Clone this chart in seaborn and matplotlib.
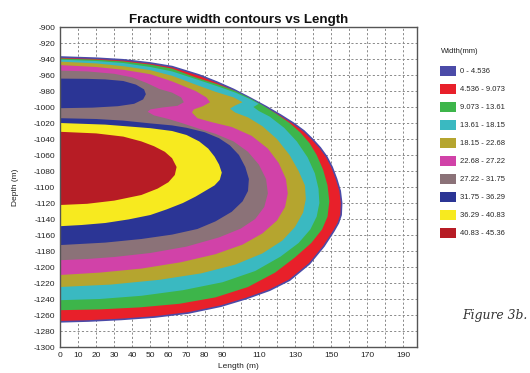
import matplotlib
matplotlib.use("Agg")
import matplotlib.pyplot as plt
import seaborn as sns
from matplotlib.patches import Patch

# ---------------- data ----------------
width_labels = ["0 - 4.536", "4.536 - 9.073", "9.073 - 13.61", "13.61 - 18.15",
                "18.15 - 22.68", "22.68 - 27.22", "27.22 - 31.75", "31.75 - 36.29",
                "36.29 - 40.83", "40.83 - 45.36"]
width_colors = ["#4b4ba8", "#e8202a", "#3db54a", "#3ab9c1", "#b5a52f",
                "#d142a8", "#8b7278", "#2b3595", "#f7ea1f", "#b71c25"]

x_ticks = list(range(0, 200, 10))
x_tick_labels = ["0", "10", "20", "30", "40", "50", "60", "70", "80", "90", "",
                 "110", "", "130", "", "150", "", "170", "", "190"]
y_ticks = list(range(-1300, -899, 20))

# contour boundaries (length m, depth m), outer -> inner
c_4_536 = [(0, -937.5), (20, -939), (35, -941), (50, -945), (62, -949.5), (77, -960),
           (87, -969), (96, -978), (105, -988.5), (114, -999.5), (122, -1010), (129, -1020),
           (135, -1030), (140, -1041), (144, -1051), (147.5, -1062), (150.5, -1075),
           (153, -1090), (155, -1105), (155.8, -1120), (155.5, -1135), (154, -1145),
           (151.5, -1155), (146, -1174), (138, -1196), (127, -1216.5), (116, -1229),
           (103, -1239.5), (89, -1249), (71, -1257.5), (52.5, -1262.5), (34, -1265.5),
           (16, -1267.5), (0, -1268.5)]
c_9_073 = [(0, -939.3), (20, -940.8), (35, -943), (50, -947), (62, -952), (75, -963),
           (87, -971.5), (97, -980), (106, -990), (113, -999), (120, -1009), (127, -1020),
           (133, -1032), (138, -1045), (142, -1060), (145.5, -1078), (148, -1098),
           (149, -1118), (148, -1137), (145, -1153), (139, -1170), (130, -1188),
           (119, -1207), (104, -1225), (86, -1238), (66, -1246), (44, -1250.5),
           (22, -1253), (0, -1254)]
c_13_61 = [(0, -940.8), (20, -942.5), (35, -945), (50, -950), (62, -955.5), (75, -965),
           (87, -974), (97, -982), (105, -990), (110, -996), (107, -1000), (110, -1005),
           (116, -1012), (124, -1026), (131, -1043), (137, -1063), (141, -1083),
           (143, -1102), (143.5, -1120), (142, -1137), (138.5, -1153), (132, -1170),
           (122, -1187), (108, -1205), (90, -1219), (68, -1229), (45, -1236),
           (22, -1240), (0, -1241.5)]
c_18_15 = [(0, -943.3), (20, -945.5), (35, -949), (50, -954), (62, -961), (75, -972),
           (86, -981), (96, -988), (101, -994), (97, -998), (94, -1002), (97, -1007),
           (104, -1013), (112, -1024), (120, -1040), (127, -1060), (132, -1080),
           (135.5, -1098), (136, -1115), (134.5, -1132), (130, -1150), (123, -1167),
           (112, -1183), (97, -1197), (78, -1208), (55, -1216), (28, -1222), (0, -1225)]
c_22_68 = [(0, -947.6), (20, -950), (35, -953.5), (50, -959), (62, -968), (75, -980),
           (81, -988), (83, -994), (79, -999), (74, -1003), (73, -1007), (76, -1014),
           (84, -1019), (95, -1025), (106, -1036), (115, -1052), (121, -1070),
           (125, -1090), (126, -1108), (124.5, -1125), (120, -1142), (112, -1158),
           (101, -1172), (86, -1184), (67, -1194), (45, -1202), (22, -1207), (0, -1210)]
c_27_22 = [(0, -954.5), (15, -955.5), (30, -958.5), (40, -963), (48, -970), (55, -977.5),
           (62, -982), (67, -988), (68.5, -994), (65, -998.5), (57, -1000.5), (50, -1003),
           (48.5, -1006), (52, -1010.5), (60, -1015), (68, -1020.5), (76, -1026.5),
           (86, -1033.5), (96, -1043), (104, -1056), (110, -1072), (114, -1090),
           (115, -1108), (113, -1125), (108, -1140), (100, -1152), (88, -1163),
           (70, -1174.5), (50, -1182.5), (30, -1187.5), (15, -1190), (0, -1191.5)]
c_31_75_top = [(0, -964.5), (15, -964.8), (25, -965.5), (35, -967.5), (42, -972),
               (46.5, -978), (47.5, -984), (46, -990.5), (41, -996), (32, -999),
               (18, -1000.8), (0, -1001.5)]
c_31_75_low = [(0, -1014), (20, -1015), (35, -1017), (50, -1020.5), (62, -1023),
               (70, -1026), (80, -1031.5), (88, -1039), (94, -1048), (99, -1060),
               (102.5, -1075), (104.5, -1090), (104, -1105), (101, -1118), (95, -1131),
               (86, -1143), (76, -1152.5), (62, -1159.5), (45, -1165), (25, -1169.5),
               (0, -1172.6)]
c_36_29 = [(0, -1020), (25, -1022), (50, -1026.5), (62, -1030), (70, -1035), (77, -1043),
           (82, -1052), (85.5, -1062), (88, -1072), (89.5, -1082), (88.4, -1091),
           (85.5, -1098), (81, -1104), (75, -1112), (68, -1120), (59, -1128), (50, -1135),
           (38, -1140.5), (25, -1145), (12, -1147.5), (0, -1149)]
c_40_83 = [(0, -1031), (20, -1033), (35, -1037), (45, -1043), (52, -1049), (58, -1056),
           (62, -1064), (64.5, -1075), (63.5, -1085), (60, -1094), (54, -1102), (45, -1110),
           (30, -1117), (15, -1121), (0, -1122.5)]

# ---------------- figure ----------------
sns.set_style("white")
plt.rcParams['font.family'] = ['Liberation Sans', 'DejaVu Sans']
plt.rcParams['axes.unicode_minus'] = False
palette = sns.color_palette(width_colors)

fig = plt.figure(figsize=(5.3, 3.73), dpi=100)
ax = fig.add_axes([60 / 530, 1 - 347 / 373, 357 / 530, 320 / 373])

layers = [(c_4_536, 1), (c_9_073, 2), (c_13_61, 3), (c_18_15, 4), (c_22_68, 5),
          (c_27_22, 6), (c_31_75_top, 7), (c_31_75_low, 7), (c_36_29, 8), (c_40_83, 9)]
for pts, ci in layers:
    xs = [p[0] for p in pts]
    ds = [p[1] for p in pts]
    if ci == 1:
        ax.fill(xs, ds, facecolor=palette[1], edgecolor=palette[0], lw=1.2, zorder=2)
    else:
        ax.fill(xs, ds, facecolor=palette[ci], edgecolor='none', lw=0, zorder=2)

ax.set_xlim(0, 197.5)
ax.set_ylim(-1300, -900)
ax.set_xticks(x_ticks)
ax.set_xticklabels(x_tick_labels)
ax.set_yticks(y_ticks)
ax.set_yticklabels([str(v) for v in y_ticks])
ax.grid(True, color='#8a8a8a', lw=0.7, ls=(0, (2.2, 2.2)), zorder=0)
ax.set_axisbelow(True)
ax.tick_params(direction='out', length=2, width=0.6, labelsize=6, pad=1.5,
               colors='#333333', labelcolor='#222222')
for s in ax.spines.values():
    s.set_color('#555555')
    s.set_linewidth(1.0)

ax.set_title("Fracture width contours vs Length", fontsize=9.6, fontweight='bold',
             pad=3, color='#111111')
ax.set_xlabel("Length (m)", fontsize=6, labelpad=3, color='#222222')
ax.set_ylabel("Depth (m)", fontsize=6, labelpad=10, color='#222222')

fig.text(441 / 530, 1 - 51.5 / 373, "Width(mm)", fontsize=5.5, color='#222222',
         va='center', ha='left')
handles = [Patch(facecolor=c, edgecolor='none') for c in palette]
fig.legend(handles, width_labels, loc='upper left', bbox_to_anchor=(440 / 530, 1 - 66 / 373),
           frameon=False, fontsize=5.5,
           handlelength=2.1, handleheight=1.6, handletextpad=0.55,
           labelspacing=1.07, borderaxespad=0, borderpad=0)

fig.text(462 / 530, 1 - 316 / 373, "Figure 3b.", fontstyle='italic', family='DejaVu Serif',
         fontsize=8.9, color='#333333', va='center', ha='left')

fig.savefig("out.png", dpi=100)
